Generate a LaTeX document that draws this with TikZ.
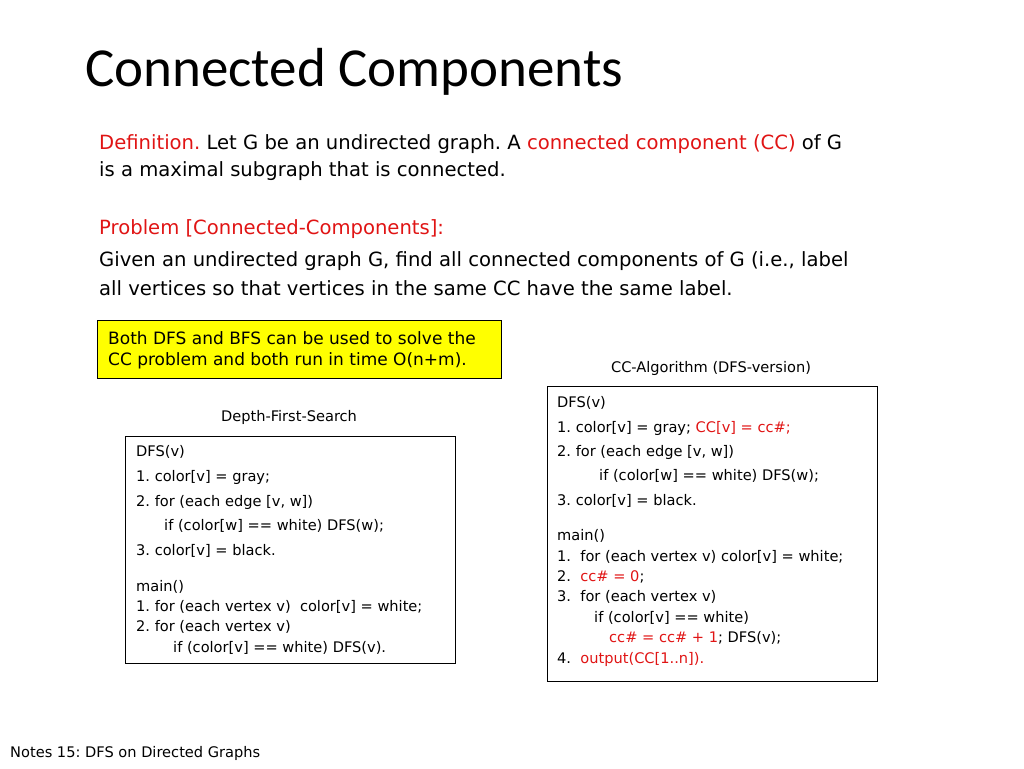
\documentclass[tikz,border=0pt]{standalone}
\usepackage{fontspec}
\setmainfont{DejaVu Sans}
\newfontfamily\titlefont{Carlito}
\usetikzlibrary{positioning}
\definecolor{DefRed}{RGB}{224,20,20}
\definecolor{NoteYellow}{RGB}{255,255,0}
\newcommand{\rd}[1]{\textcolor{DefRed}{#1}}
\frenchspacing

\begin{document}
\begin{tikzpicture}[x=1pt,y=-1pt,
  body/.style={anchor=west, inner sep=0pt, font=\fontsize{19.6}{22}\selectfont},
  code/.style={anchor=west, inner sep=0pt, font=\fontsize{14.6}{17}\selectfont},
  caption/.style={inner sep=0pt, font=\fontsize{14.6}{17}\selectfont},
  codebox/.style={draw=black, thick}
  ]
  \useasboundingbox (0,0) rectangle (1024,768);

  % title and definition:
  \node [anchor=west, inner sep=0pt, font=\titlefont\fontsize{55}{60}\selectfont] (title) at (85,72) {Connected Components};
  \node [body] (def1) at (99,144) {\rd{Definition.} Let G be an undirected graph. A \rd{connected component (CC)} of G};
  \node [body] (def2) at (99,171) {is a maximal subgraph that is connected.};
  \node [body] (prob) at (99,229) {\rd{Problem [Connected-Components]:}};
  \node [body] (giv1) at (99,261) {Given an undirected graph G, find all connected components of G (i.e., label};
  \node [body] (giv2) at (99,288) {all vertices so that vertices in the same CC have the same label.};

  % note:
  \filldraw [fill=NoteYellow, draw=black] (97,320) rectangle (501,378);
  \node [anchor=west, inner sep=0pt, font=\fontsize{17}{19}\selectfont] (note1) at (108,338) {Both DFS and BFS can be used to solve the};
  \node [anchor=west, inner sep=0pt, font=\fontsize{17}{19}\selectfont] (note2) at (108,361) {CC problem and both run in time O(n+m).};

  % DFS box:
  \node [caption] (dfscap) at (289,417) {Depth-First-Search};
  \draw [codebox] (125,436) rectangle (455,663);
  \foreach \y/\t in {452/{DFS(v)}, 477/{1. color[v] = gray;}, 502/{2. for (each edge [v, w])},
    526/{\hspace{28pt}if (color[w] == white) DFS(w);}, 551/{3. color[v] = black.}, 587/{main()},
    607/{1. for (each vertex v)\ \ color[v] = white;}, 627/{2. for (each vertex v)},
    648/{\hspace{37pt}if (color[v] == white) DFS(v).}} {
    \node [code] at (136,\y) {\t};
  }

  % CC box:
  \node [caption] (cccap) at (711,368) {CC-Algorithm (DFS-version)};
  \draw [codebox] (547,386) rectangle (877,681);
  \foreach \y/\t in {403/{DFS(v)}, 428/{1. color[v] = gray; \rd{CC[v] = cc\#;}}, 452/{2. for (each edge [v, w])},
    476/{\hspace{42pt}if (color[w] == white) DFS(w);}, 501/{3. color[v] = black.}, 536/{main()},
    557/{1.\ \ for (each vertex v) color[v] = white;}, 577/{2.\ \ \rd{cc\# = 0};}, 597/{3.\ \ for (each vertex v)},
    618/{\hspace{37pt}if (color[v] == white)}, 638/{\hspace{52pt}\rd{cc\# = cc\# + 1}; DFS(v);},
    659/{4.\ \ \rd{output(CC[1..n]).}}} {
    \node [code] at (557,\y) {\t};
  }

  % footer:
  \node [code] (foot) at (10,753) {Notes 15: DFS on Directed Graphs};
\end{tikzpicture}
\end{document}
